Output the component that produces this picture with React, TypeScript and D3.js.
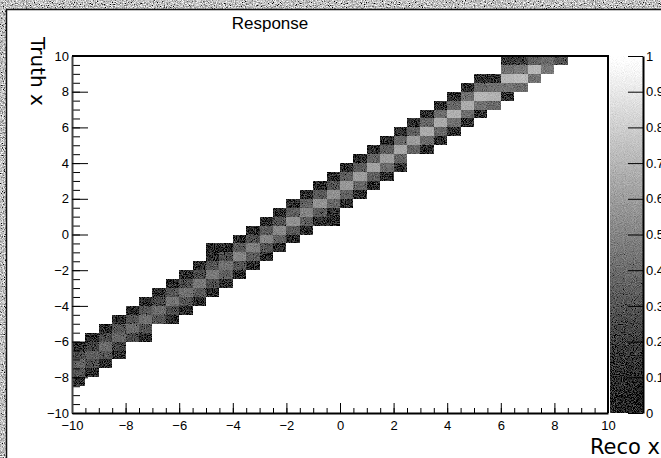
import React, { useEffect, useRef } from "react";
import * as d3 from "d3";

// histogram binning (reco on x, truth on y)
const recoRange = [-10, 10];
const truthRange = [-10, 10];
const nBins = 40;

// first filled truth bin for every reco bin
const firstTruthBin = [
  3, 4, 5, 6, 8, 8, 10, 10, 11, 12, 13, 14, 15, 16, 17, 18, 19, 20, 21, 21,
  23, 24, 25, 26, 27, 29, 29, 30, 31, 32, 33, 34, 35, 36, 37, 38, 39,
];

// bin contents going up in truth from firstTruthBin
const binContents = [
  [0.12, 0.3, 0.38, 0.25, 0.08],
  [0.1, 0.28, 0.35, 0.22, 0.07],
  [0.08, 0.3, 0.4, 0.26, 0.06],
  [0.1, 0.22, 0.38, 0.3, 0.07],
  [0.25, 0.4, 0.3, 0.08],
  [0.06, 0.28, 0.42, 0.3, 0.08],
  [0.3, 0.4, 0.25, 0.07],
  [0.07, 0.26, 0.44, 0.3, 0.06],
  [0.08, 0.3, 0.42, 0.27, 0.08],
  [0.07, 0.32, 0.45, 0.25, 0.07],
  [0.06, 0.28, 0.46, 0.3, 0.1, 0.04],
  [0.1, 0.35, 0.42, 0.26, 0.07],
  [0.08, 0.3, 0.5, 0.32, 0.08],
  [0.09, 0.34, 0.48, 0.28, 0.07],
  [0.08, 0.3, 0.5, 0.33, 0.08],
  [0.1, 0.36, 0.52, 0.3, 0.07],
  [0.08, 0.32, 0.55, 0.34, 0.09],
  [0.09, 0.35, 0.5, 0.36, 0.08],
  [0.1, 0.33, 0.56, 0.32, 0.08],
  [0.05, 0.12, 0.38, 0.55, 0.3, 0.07],
  [0.1, 0.36, 0.58, 0.35, 0.09],
  [0.09, 0.38, 0.6, 0.33, 0.08],
  [0.1, 0.35, 0.62, 0.37, 0.09],
  [0.11, 0.4, 0.6, 0.34, 0.08],
  [0.1, 0.37, 0.64, 0.38, 0.1],
  [0.36, 0.6, 0.35, 0.09],
  [0.08, 0.4, 0.66, 0.38, 0.1],
  [0.1, 0.38, 0.65, 0.4, 0.1],
  [0.11, 0.42, 0.68, 0.38, 0.09],
  [0.1, 0.4, 0.66, 0.42, 0.11],
  [0.12, 0.42, 0.7, 0.4, 0.1],
  [0.38, 0.68, 0.42, 0.12],
  [0.12, 0.44, 0.7, 0.42, 0.15],
  [0.4, 0.72, 0.45, 0.2],
  [0.42, 0.7, 0.35],
  [0.45, 0.4],
  [0.3],
];

const axisTicks = [-10, -8, -6, -4, -2, 0, 2, 4, 6, 8, 10];
const zTicks = [0, 0.1, 0.2, 0.3, 0.4, 0.5, 0.6, 0.7, 0.8, 0.9, 1];

const title = "Response";
const xTitle = "Reco x";
const yTitle = "Truth x";

export default function App() {
  const ref = useRef<SVGSVGElement>(null);

  const width = 661;
  const height = 458;
  const frame = { left: 72, right: 608, top: 56, bottom: 413 };
  const palette = { left: 610, right: 643 };
  const font = "'Liberation Sans', Arial, sans-serif";
  const titleFont = "'DejaVu Sans', sans-serif";

  useEffect(() => {
    const svg = d3.select(ref.current);
    svg.selectAll("*").remove();

    const x = d3.scaleLinear().domain(recoRange).range([frame.left, frame.right]);
    const y = d3.scaleLinear().domain(truthRange).range([frame.bottom, frame.top]);
    const z = d3.scaleLinear().domain([0, 1]).range([frame.bottom, frame.top]);
    const gray = d3.scaleLinear<string>().domain([0, 1]).range(["#000", "#fff"]);
    const binW = (recoRange[1] - recoRange[0]) / nBins;
    const binH = (truthRange[1] - truthRange[0]) / nBins;

    const defs = svg.append("defs");
    const grayMatrix =
      "0.33 0.33 0.33 0 0  0.33 0.33 0.33 0 0  0.33 0.33 0.33 0 0  0 0 0 0 1";

    // noisy grey of the scanned border
    const grain = defs
      .append("filter")
      .attr("id", "grain")
      .attr("x", 0)
      .attr("y", 0)
      .attr("width", "100%")
      .attr("height", "100%");
    grain
      .append("feTurbulence")
      .attr("type", "fractalNoise")
      .attr("baseFrequency", 0.9)
      .attr("numOctaves", 2)
      .attr("seed", 4);
    grain.append("feColorMatrix").attr("type", "matrix").attr("values", grayMatrix);
    const ct = grain.append("feComponentTransfer");
    ["feFuncR", "feFuncG", "feFuncB"].forEach((f) =>
      ct.append(f).attr("type", "linear").attr("slope", 3.2).attr("intercept", -1.05)
    );

    // dither-like speckle on the filled areas
    const dither = defs
      .append("filter")
      .attr("id", "dither")
      .attr("x", 0)
      .attr("y", 0)
      .attr("width", "100%")
      .attr("height", "100%")
      .attr("filterUnits", "userSpaceOnUse");
    dither
      .append("feTurbulence")
      .attr("type", "fractalNoise")
      .attr("baseFrequency", 1.1)
      .attr("numOctaves", 1)
      .attr("seed", 7)
      .attr("result", "noise");
    dither
      .append("feColorMatrix")
      .attr("in", "noise")
      .attr("type", "matrix")
      .attr("values", grayMatrix)
      .attr("result", "gnoise");
    dither
      .append("feComposite")
      .attr("in", "SourceGraphic")
      .attr("in2", "gnoise")
      .attr("operator", "arithmetic")
      .attr("k1", 0)
      .attr("k2", 1)
      .attr("k3", 0.7)
      .attr("k4", -0.33)
      .attr("result", "mix");
    dither
      .append("feComposite")
      .attr("in", "mix")
      .attr("in2", "SourceGraphic")
      .attr("operator", "in");

    const grad = defs
      .append("linearGradient")
      .attr("id", "zgrad")
      .attr("x1", 0)
      .attr("y1", 1)
      .attr("x2", 0)
      .attr("y2", 0);
    grad.append("stop").attr("offset", 0).attr("stop-color", gray(0));
    grad.append("stop").attr("offset", 1).attr("stop-color", gray(1));

    svg.append("rect").attr("width", width).attr("height", height).attr("fill", "#fff");

    // cells
    const cells = binContents.flatMap((col, i) =>
      col.map((v, k) => ({ i, j: firstTruthBin[i] + k, v }))
    );
    svg
      .append("g")
      .attr("filter", "url(#dither)")
      .selectAll("rect")
      .data(cells)
      .join("rect")
      .attr("x", (d) => x(recoRange[0] + d.i * binW))
      .attr("y", (d) => y(truthRange[0] + (d.j + 1) * binH))
      .attr("width", (d) => x(recoRange[0] + (d.i + 1) * binW) - x(recoRange[0] + d.i * binW))
      .attr("height", (d) => y(truthRange[0] + d.j * binH) - y(truthRange[0] + (d.j + 1) * binH))
      .attr("fill", (d) => gray(d.v))
      .attr("shape-rendering", "crispEdges");

    // palette
    svg
      .append("g")
      .attr("filter", "url(#dither)")
      .append("rect")
      .attr("x", palette.left)
      .attr("y", frame.top)
      .attr("width", palette.right - palette.left)
      .attr("height", frame.bottom - frame.top)
      .attr("fill", "url(#zgrad)");

    const minor = d3.range(-10, 10.01, 0.5);

    const xMinor = svg
      .append("g")
      .attr("transform", `translate(0,${frame.bottom})`)
      .call(d3.axisBottom(x).tickValues(minor).tickSize(-5).tickSizeOuter(0).tickFormat(() => ""));
    xMinor.select(".domain").remove();

    svg
      .append("g")
      .attr("transform", `translate(0,${frame.bottom})`)
      .call(d3.axisBottom(x).tickValues(axisTicks).tickSize(-10).tickSizeOuter(0).tickPadding(8))
      .call((g) => g.select(".domain").attr("stroke-width", 2))
      .call((g) => g.selectAll("text").attr("font-size", 13).attr("font-family", font));

    const yMinor = svg
      .append("g")
      .attr("transform", `translate(${frame.left},0)`)
      .call(d3.axisLeft(y).tickValues(minor).tickSize(-8).tickSizeOuter(0).tickFormat(() => ""));
    yMinor.select(".domain").remove();

    svg
      .append("g")
      .attr("transform", `translate(${frame.left},0)`)
      .call(d3.axisLeft(y).tickValues(axisTicks).tickSize(-16).tickSizeOuter(0).tickPadding(3))
      .call((g) => g.select(".domain").attr("stroke-width", 2).attr("stroke", "#444"))
      .call((g) => g.selectAll("text").attr("font-size", 13).attr("font-family", font));

    // top and right frame lines
    svg
      .append("path")
      .attr("d", `M${frame.left},${frame.top}H${frame.right}V${frame.bottom}`)
      .attr("fill", "none")
      .attr("stroke", "#000")
      .attr("stroke-width", 2);

    svg
      .append("g")
      .attr("transform", `translate(${palette.right},0)`)
      .call(
        d3
          .axisRight(z)
          .tickValues(zTicks)
          .tickSize(-15)
          .tickSizeOuter(0)
          .tickPadding(3)
          .tickFormat(d3.format("~g"))
      )
      .call((g) => g.select(".domain").attr("stroke-width", 2))
      .call((g) => g.selectAll("text").attr("font-size", 13).attr("font-family", font));

    // titles
    svg
      .append("text")
      .attr("x", 270)
      .attr("y", 29)
      .attr("text-anchor", "middle")
      .attr("font-size", 17)
      .attr("font-family", font)
      .text(title);

    svg
      .append("text")
      .attr("x", 660)
      .attr("y", 454)
      .attr("text-anchor", "end")
      .attr("font-size", 21)
      .attr("font-family", titleFont)
      .text(xTitle);

    svg
      .append("text")
      .attr("transform", `translate(31,37) rotate(90)`)
      .attr("font-size", 20)
      .attr("font-family", titleFont)
      .text(yTitle);

    // scanned border at top and left
    svg.append("rect").attr("x", 0).attr("y", 0).attr("width", width).attr("height", 9).attr("filter", "url(#grain)");
    svg.append("rect").attr("x", 0).attr("y", 0).attr("width", 7).attr("height", height).attr("filter", "url(#grain)");
    svg
      .append("path")
      .attr("d", `M${width},9.5H6.5V${height}`)
      .attr("fill", "none")
      .attr("stroke", "#111")
      .attr("stroke-width", 1.5);
  }, []);

  return (
    <svg
      ref={ref}
      width={width}
      height={height}
      style={{ position: "absolute", left: 0, top: 0 }}
    ></svg>
  );
}
